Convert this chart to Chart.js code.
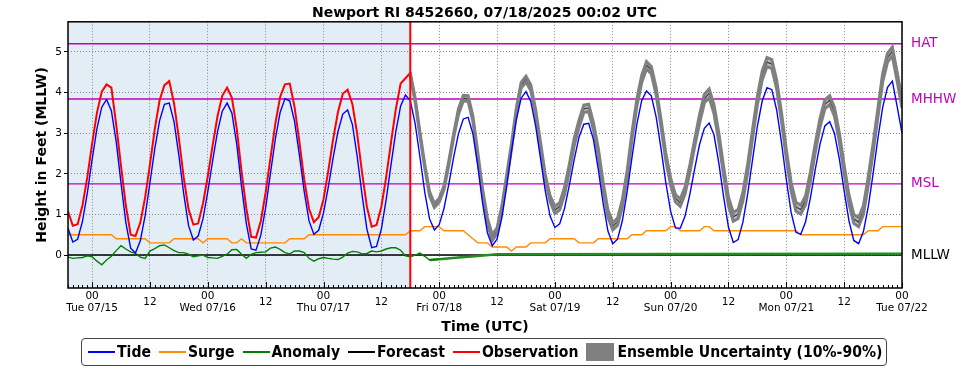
<!DOCTYPE html>
<html lang="en">
<head>
<meta charset="UTF-8">
<title>Newport RI 8452660</title>
<style>
    body { margin: 0; background: #fff; }
    #wrap { position: relative; width: 969px; height: 370px; }
    #legend {
        position: absolute; left: 81px; top: 338px; height: 28px;
        box-sizing: border-box; border: 1px solid #444; border-radius: 4px;
        display: flex; align-items: center; padding: 0 4px 0 6px;
        font-family: 'DejaVu Sans Condensed', 'DejaVu Sans', sans-serif;
        font-stretch: condensed; font-weight: bold; font-size: 15.6px;
        color: #000; white-space: nowrap;
    }
    .item { display: flex; align-items: center; margin-right: 8px; }
    .item:last-child { margin-right: 0; }
    .swatch { width: 27px; height: 2px; margin-right: 2px; }
    .block { width: 28px; height: 18px; background: #808080; margin-right: 3px; }
</style>
</head>
<body>
<div id="wrap">
    <canvas id="chart" width="969" height="370"></canvas>
    <div id="legend">
        <div class="item"><span class="swatch" style="background:#0000ff"></span>Tide</div>
        <div class="item"><span class="swatch" style="background:#ff8c00"></span>Surge</div>
        <div class="item"><span class="swatch" style="background:#008000"></span>Anomaly</div>
        <div class="item"><span class="swatch" style="background:#000000"></span>Forecast</div>
        <div class="item"><span class="swatch" style="background:#ff0000"></span>Observation</div>
        <div class="item"><span class="block"></span>Ensemble Uncertainty (10%-90%)</div>
    </div>
</div>

<script src="https://cdn.jsdelivr.net/npm/chart.js"></script>
<script>
// hours are counted from Tue 07/15 00 UTC
const startHour = -5;
const endHour = 168;
const nowHour = 66;          // forecast issue time (red line)
const forecastStartHour = 66;

const tickHours = [0, 12, 24, 36, 48, 60, 72, 84, 96, 108, 120, 132, 144, 156, 168];
const dayLabels = ['Tue 07/15', 'Wed 07/16', 'Thu 07/17', 'Fri 07/18', 'Sat 07/19', 'Sun 07/20', 'Mon 07/21', 'Tue 07/22'];
const yTicks = [0, 1, 2, 3, 4, 5];

const datumNames = ['HAT', 'MHHW', 'MSL', 'MLLW'];
const datumValues = [5.20, 3.84, 1.75, 0];
const datumColors = ['#bf00bf', '#bf00bf', '#bf00bf', '#000000'];

// hourly, from startHour
const tide = [
    0.66, 0.32, 0.39, 0.83, 1.52, 2.35, 3.11, 3.64, 3.83, 3.55,
    2.79, 1.77, 0.80, 0.17, 0.05, 0.35, 0.97, 1.78, 2.62, 3.31,
    3.71, 3.74, 3.28, 2.45, 1.51, 0.73, 0.37, 0.47, 0.89, 1.56,
    2.32, 3.03, 3.54, 3.74, 3.49, 2.73, 1.69, 0.77, 0.15, 0.12,
    0.49, 1.17, 2.01, 2.85, 3.51, 3.85, 3.79, 3.29, 2.46, 1.56,
    0.84, 0.51, 0.61, 1.04, 1.68, 2.40, 3.04, 3.47, 3.57, 3.21,
    2.42, 1.48, 0.64, 0.18, 0.21, 0.64, 1.37, 2.22, 3.04, 3.67,
    3.94, 3.80, 3.24, 2.42, 1.55, 0.89, 0.62, 0.75, 1.15, 1.75,
    2.41, 2.99, 3.35, 3.39, 2.98, 2.19, 1.28, 0.55, 0.23, 0.39,
    0.92, 1.69, 2.56, 3.33, 3.86, 4.02, 3.78, 3.18, 2.39, 1.58,
    0.96, 0.68, 0.77, 1.15, 1.72, 2.35, 2.90, 3.22, 3.24, 2.84,
    2.11, 1.28, 0.59, 0.28, 0.39, 0.85, 1.57, 2.41, 3.22, 3.80,
    4.04, 3.92, 3.40, 2.63, 1.79, 1.08, 0.67, 0.66, 0.96, 1.50,
    2.13, 2.72, 3.12, 3.25, 2.96, 2.27, 1.43, 0.69, 0.31, 0.38,
    0.81, 1.51, 2.35, 3.17, 3.79, 4.12, 4.07, 3.57, 2.77, 1.86,
    1.05, 0.56, 0.51, 0.82, 1.41, 2.10, 2.73, 3.18, 3.28, 2.99,
    2.37, 1.58, 0.84, 0.36, 0.28, 0.58, 1.19, 2.00, 2.87, 3.64,
    4.13, 4.28, 3.65, 3.00
];

const surge = [
    0.5, 0.5, 0.5, 0.5, 0.5, 0.5, 0.5, 0.5, 0.5, 0.5,
    0.4, 0.4, 0.4, 0.4, 0.4, 0.4, 0.4, 0.3, 0.3, 0.3,
    0.3, 0.3, 0.4, 0.4, 0.4, 0.4, 0.4, 0.4, 0.3, 0.4,
    0.4, 0.4, 0.4, 0.4, 0.3, 0.3, 0.4, 0.3, 0.3, 0.3,
    0.3, 0.3, 0.3, 0.3, 0.3, 0.3, 0.4, 0.4, 0.4, 0.4,
    0.5, 0.5, 0.5, 0.5, 0.5, 0.5, 0.5, 0.5, 0.5, 0.5,
    0.5, 0.5, 0.5, 0.5, 0.5, 0.5, 0.5, 0.5, 0.5, 0.5,
    0.5, 0.6, 0.6, 0.6, 0.7, 0.7, 0.7, 0.7, 0.6, 0.6,
    0.6, 0.6, 0.6, 0.5, 0.4, 0.3, 0.3, 0.3, 0.2, 0.2,
    0.2, 0.2, 0.1, 0.2, 0.2, 0.2, 0.3, 0.3, 0.3, 0.3,
    0.4, 0.4, 0.4, 0.4, 0.4, 0.4, 0.3, 0.3, 0.3, 0.3,
    0.4, 0.4, 0.4, 0.4, 0.4, 0.4, 0.4, 0.5, 0.5, 0.5,
    0.6, 0.6, 0.6, 0.6, 0.6, 0.7, 0.7, 0.6, 0.6, 0.6,
    0.6, 0.6, 0.7, 0.7, 0.6, 0.6, 0.6, 0.6, 0.6, 0.6,
    0.6, 0.6, 0.6, 0.6, 0.6, 0.6, 0.6, 0.6, 0.6, 0.6,
    0.6, 0.6, 0.5, 0.5, 0.5, 0.5, 0.5, 0.5, 0.5, 0.5,
    0.5, 0.5, 0.5, 0.5, 0.5, 0.5, 0.6, 0.6, 0.6, 0.7,
    0.7, 0.7, 0.7, 0.7
];

// observed anomaly, hourly from startHour to 72
const anomaly = [
    -0.05, -0.08, -0.07, -0.06, -0.02, -0.04, -0.15, -0.24, -0.12, -0.03,
    0.11, 0.23, 0.15, 0.08, 0.04, -0.05, -0.08, 0.10, 0.16, 0.23,
    0.25, 0.18, 0.11, 0.06, 0.06, 0.02, -0.04, -0.02, 0.00, -0.06,
    -0.07, -0.08, -0.03, 0.02, 0.13, 0.14, 0.02, -0.08, 0.02, 0.06,
    0.07, 0.08, 0.17, 0.20, 0.14, 0.06, 0.03, 0.10, 0.10, 0.06,
    -0.08, -0.15, -0.09, -0.06, -0.08, -0.10, -0.11, -0.05, 0.05, 0.09,
    0.08, 0.03, 0.04, 0.10, 0.08, 0.10, 0.15, 0.18, 0.18, 0.12,
    -0.02, -0.04, 0.00, 0.05, -0.03, -0.12, -0.11, -0.10
];
// forecast anomaly
const anomalyFcstHours = [70, 72, 76, 80, 84, 168];
const anomalyFcstValues = [-0.12, -0.10, -0.06, -0.02, 0.02, 0.03];

// observed water level, hourly from startHour to 72
const observation = [
    1.08, 0.72, 0.76, 1.22, 1.91, 2.74, 3.50, 4.02, 4.20, 4.12,
    3.21, 2.19, 1.22, 0.50, 0.47, 0.80, 1.42, 2.23, 3.10, 3.81,
    4.18, 4.28, 3.73, 2.87, 1.91, 1.13, 0.75, 0.78, 1.27, 1.94,
    2.70, 3.41, 3.92, 4.12, 3.87, 3.11, 2.06, 1.14, 0.45, 0.43,
    0.84, 1.54, 2.39, 3.23, 3.89, 4.20, 4.22, 3.64, 2.79, 1.86,
    1.14, 0.81, 0.93, 1.37, 2.08, 2.85, 3.52, 3.97, 4.07, 3.71,
    2.97, 2.03, 1.19, 0.70, 0.74, 1.19, 1.92, 2.77, 3.59, 4.22,
    4.35, 4.48, 3.86, 3.04, 2.17, 1.49, 1.22, 1.35
];

// hourly from forecastStartHour
const forecast = [
    4.45, 3.82, 2.98, 2.19, 1.51, 1.22, 1.35, 1.66, 2.27, 2.94,
    3.53, 3.86, 3.85, 3.35, 2.46, 1.56, 0.84, 0.43, 0.60, 1.14,
    1.91, 2.68, 3.55, 4.18, 4.33, 4.12, 3.51, 2.72, 1.91, 1.39,
    1.11, 1.20, 1.58, 2.15, 2.78, 3.23, 3.60, 3.62, 3.17, 2.54,
    1.71, 1.02, 0.71, 0.82, 1.28, 2.00, 2.94, 3.75, 4.33, 4.67,
    4.55, 4.03, 3.26, 2.42, 1.81, 1.40, 1.29, 1.59, 2.13, 2.76,
    3.35, 3.85, 3.98, 3.59, 2.90, 2.06, 1.32, 0.94, 1.01, 1.44,
    2.14, 2.98, 3.80, 4.42, 4.75, 4.70, 4.20, 3.40, 2.49, 1.68,
    1.19, 1.12, 1.35, 1.94, 2.63, 3.26, 3.71, 3.81, 3.52, 2.90,
    2.11, 1.37, 0.89, 0.81, 1.11, 1.82, 2.63, 3.50, 4.37, 4.86,
    5.01, 4.38, 3.73
];

const ensembleLow = [
    4.40, 3.77, 2.93, 2.14, 1.46, 1.17, 1.30, 1.61, 2.22, 2.89,
    3.46, 3.79, 3.78, 3.28, 2.39, 1.49, 0.77, 0.36, 0.53, 1.07,
    1.84, 2.61, 3.48, 4.11, 4.26, 4.05, 3.44, 2.65, 1.84, 1.32,
    1.02, 1.11, 1.49, 2.06, 2.69, 3.14, 3.51, 3.53, 3.08, 2.45,
    1.62, 0.93, 0.62, 0.73, 1.19, 1.91, 2.85, 3.66, 4.24, 4.58,
    4.46, 3.94, 3.17, 2.33, 1.72, 1.31, 1.20, 1.50, 2.04, 2.67,
    3.24, 3.74, 3.87, 3.48, 2.79, 1.95, 1.21, 0.83, 0.90, 1.33,
    2.03, 2.87, 3.69, 4.31, 4.64, 4.59, 4.09, 3.29, 2.38, 1.57,
    1.08, 1.01, 1.24, 1.83, 2.52, 3.15, 3.60, 3.70, 3.41, 2.79,
    2.00, 1.26, 0.78, 0.70, 1.00, 1.71, 2.52, 3.39, 4.26, 4.75,
    4.90, 4.27, 3.62
];

const ensembleHigh = [
    4.50, 3.87, 3.03, 2.24, 1.56, 1.27, 1.40, 1.71, 2.32, 2.99,
    3.60, 3.93, 3.92, 3.42, 2.53, 1.63, 0.91, 0.50, 0.67, 1.21,
    1.98, 2.75, 3.62, 4.25, 4.40, 4.19, 3.58, 2.79, 1.98, 1.46,
    1.20, 1.29, 1.67, 2.24, 2.87, 3.32, 3.69, 3.71, 3.26, 2.63,
    1.80, 1.11, 0.80, 0.91, 1.37, 2.09, 3.03, 3.84, 4.42, 4.76,
    4.64, 4.12, 3.35, 2.51, 1.90, 1.49, 1.38, 1.68, 2.22, 2.85,
    3.46, 3.96, 4.09, 3.70, 3.01, 2.17, 1.43, 1.05, 1.12, 1.55,
    2.25, 3.09, 3.91, 4.53, 4.86, 4.81, 4.31, 3.51, 2.60, 1.79,
    1.30, 1.23, 1.46, 2.05, 2.74, 3.37, 3.82, 3.92, 3.63, 3.01,
    2.22, 1.48, 1.00, 0.92, 1.22, 1.93, 2.74, 3.61, 4.48, 4.97,
    5.12, 4.49, 3.84
];

function hourly(start, values) {
    return values.map((v, i) => ({ x: start + i, y: v }));
}

function line(label, data, color, width, order) {
    return {
        label: label, data: data, borderColor: color, backgroundColor: color,
        borderWidth: width, pointRadius: 0, tension: 0, fill: false, order: order
    };
}

const datumSets = datumNames.map((name, i) =>
    line(name, [{ x: startHour, y: datumValues[i] }, { x: endHour, y: datumValues[i] }],
        datumColors[i], i === 3 ? 1.5 : 1.3, 10)
);

// band sits above the forecast line: the black shows only through the light fill
const ensHigh = line('Ensemble high', hourly(forecastStartHour, ensembleHigh), '#808080', 3, 5);
ensHigh.fill = { target: '+1' };
ensHigh.backgroundColor = 'rgba(128,128,128,0.5)';
const ensLow = line('Ensemble low', hourly(forecastStartHour, ensembleLow), '#808080', 3, 5);

const datasets = [
    line('Tide', hourly(startHour, tide), '#0000ff', 1.4, 1),
    line('Surge', hourly(startHour, surge), '#ff8c00', 1.4, 2),
    line('Anomaly', hourly(startHour, anomaly), '#008000', 1.4, 3),
    line('Anomaly forecast', anomalyFcstHours.map((h, i) => ({ x: h, y: anomalyFcstValues[i] })), '#228b22', 2.5, 3),
    ensHigh,
    ensLow,
    line('Forecast', hourly(forecastStartHour, forecast), '#000000', 1.3, 6),
    line('Observation', hourly(startHour, observation), '#ff0000', 2, 7),
    ...datumSets
];

// shade the hindcast period, draw ticks, red "now" line and frame
const decorations = {
    id: 'decorations',
    beforeDraw(chart) {
        const { ctx, chartArea: a, scales: { x } } = chart;
        ctx.save();
        ctx.fillStyle = '#e3edf5';
        ctx.fillRect(a.left, a.top, x.getPixelForValue(nowHour) - a.left, a.bottom - a.top);
        ctx.restore();
    },
    afterDatasetsDraw(chart) {
        const { ctx, chartArea: a, scales: { x } } = chart;
        ctx.save();
        ctx.strokeStyle = '#000';
        ctx.lineWidth = 1;
        ctx.beginPath();
        for (let h = Math.ceil(x.min); h <= x.max; h++) {
            const px = Math.round(x.getPixelForValue(h)) + 0.5;
            const len = h % 12 === 0 ? 6 : 3;
            ctx.moveTo(px, a.bottom);
            ctx.lineTo(px, a.bottom - len);
        }
        ctx.stroke();

        const nx = x.getPixelForValue(nowHour);
        ctx.strokeStyle = '#ff0000';
        ctx.lineWidth = 2;
        ctx.beginPath();
        ctx.moveTo(nx, a.top);
        ctx.lineTo(nx, a.bottom);
        ctx.stroke();

        ctx.strokeStyle = '#000';
        ctx.lineWidth = 1.5;
        ctx.strokeRect(a.left, a.top, a.right - a.left, a.bottom - a.top);
        ctx.restore();
    }
};

Chart.defaults.font.family = "'DejaVu Sans', sans-serif";
Chart.defaults.color = '#000';

new Chart(document.getElementById('chart'), {
    type: 'line',
    data: { datasets: datasets },
    options: {
        responsive: false,
        animation: false,
        devicePixelRatio: 1,
        layout: { padding: { left: 0, right: 0, top: 0, bottom: 32 } },
        plugins: {
            legend: { display: false },
            tooltip: { enabled: false },
            title: {
                display: true,
                text: 'Newport RI 8452660, 07/18/2025 00:02 UTC',
                font: { size: 14, weight: 'bold' },
                color: '#000',
                padding: { top: 5, bottom: 0 }
            }
        },
        scales: {
            x: {
                type: 'linear',
                min: startHour,
                max: endHour,
                afterBuildTicks: s => { s.ticks = tickHours.map(v => ({ value: v })); },
                afterFit: s => { s.height = 50; },
                ticks: {
                    autoSkip: false,
                    maxRotation: 0,
                    padding: 8,
                    crossAlign: 'center',
                    font: { size: 10.5 },
                    callback: v => (v % 24 === 0 ? ['00', dayLabels[v / 24]] : '12')
                },
                grid: { color: '#888', lineWidth: 1, drawTicks: false },
                border: { display: false, dash: [1, 2] },
                title: {
                    display: true,
                    text: 'Time (UTC)',
                    font: { size: 14, weight: 'bold' },
                    padding: { top: 0, bottom: 2.6 }
                }
            },
            y: {
                type: 'linear',
                position: 'left',
                min: -0.81,
                max: 5.74,
                afterBuildTicks: s => { s.ticks = yTicks.map(v => ({ value: v })); },
                afterFit: s => { s.width = 68; },
                ticks: { padding: 2, font: { size: 10.5 } },
                grid: { color: '#888', lineWidth: 1, drawTicks: true, tickLength: 4, tickColor: '#000' },
                border: { display: false, dash: [1, 2] },
                title: {
                    display: true,
                    text: 'Height in Feet (MLLW)',
                    font: { size: 14, weight: 'bold' },
                    padding: { top: 33.6, bottom: 0 }
                }
            },
            datum: {
                type: 'linear',
                position: 'right',
                min: -0.81,
                max: 5.74,
                afterBuildTicks: s => { s.ticks = datumValues.map(v => ({ value: v })); },
                afterFit: s => { s.width = 67; },
                ticks: {
                    autoSkip: false,
                    padding: 9,
                    font: { size: 13.5 },
                    color: c => datumColors[c.index],
                    callback: (v, i) => datumNames[i]
                },
                grid: { display: false, drawTicks: false },
                border: { display: false }
            }
        }
    },
    plugins: [decorations]
});
</script>
</body>
</html>
